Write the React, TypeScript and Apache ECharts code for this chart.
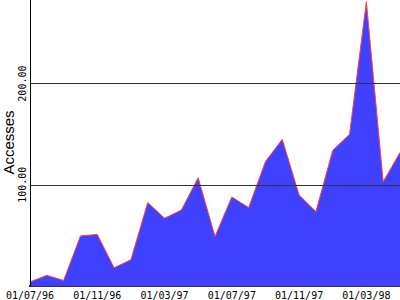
import React, { useEffect, useRef } from "react";
import * as echarts from "echarts";

const months = [
  "01/07/96", "01/08/96", "01/09/96", "01/10/96", "01/11/96", "01/12/96",
  "01/01/97", "01/02/97", "01/03/97", "01/04/97", "01/05/97", "01/06/97",
  "01/07/97", "01/08/97", "01/09/97", "01/10/97", "01/11/97", "01/12/97",
  "01/01/98", "01/02/98", "01/03/98", "01/04/98", "01/05/98",
];
const accesses = [
  4, 10.5, 5.5, 49.5, 51, 18, 26, 82.5, 67, 75, 107, 49,
  88, 77.5, 123, 145, 90, 73.5, 134, 150, 281, 103, 132,
];
const yTicks = [0, 100, 200];

export default function App() {
  const ref = useRef<HTMLDivElement>(null);
  useEffect(() => {
    if (!ref.current) return;
    const chart = echarts.init(ref.current, null, { renderer: "svg" });
    chart.setOption({
      animation: false,
      backgroundColor: "#ffffff",
      grid: {
        left: 30,
        right: 0,
        top: -1,
        bottom: 14,
        containLabel: false,
        outerBoundsMode: "none",
      },
      xAxis: {
        type: "category",
        data: months,
        boundaryGap: false,
        axisLine: { lineStyle: { color: "#000", width: 2 } },
        axisTick: { show: false },
        axisLabel: {
          interval: 3,
          margin: 4,
          color: "#000",
          fontFamily: "DejaVu Sans Mono",
          fontSize: 10,
        },
        splitLine: { show: false },
      },
      yAxis: {
        type: "value",
        min: yTicks[0],
        max: 283.6,
        interval: yTicks[1] - yTicks[0],
        z: 5,
        name: "Accesses",
        nameLocation: "middle",
        nameRotate: 90,
        nameGap: 14,
        nameMoveOverlap: false,
        nameTextStyle: { color: "#000", fontFamily: "Liberation Sans", fontSize: 15 },
        axisLine: { show: true, lineStyle: { color: "#000", width: 1 } },
        axisTick: { show: false },
        axisLabel: {
          rotate: 90,
          margin: 3,
          showMinLabel: false,
          showMaxLabel: false,
          color: "#000",
          fontFamily: "DejaVu Sans Mono",
          fontSize: 10,
          formatter: (v: number) => v.toFixed(2),
        },
        splitLine: { show: true, lineStyle: { color: "#333", width: 1 } },
      },
      series: [
        {
          type: "line",
          data: accesses,
          symbol: "none",
          lineStyle: { color: "#ff4040", width: 1 },
          areaStyle: { color: "#4040ff", opacity: 1 },
        },
      ],
    });
    return () => chart.dispose();
  }, []);
  return (
    <div
      ref={ref}
      style={{ position: "absolute", left: 0, top: 0, width: 400, height: 300 }}
    />
  );
}
